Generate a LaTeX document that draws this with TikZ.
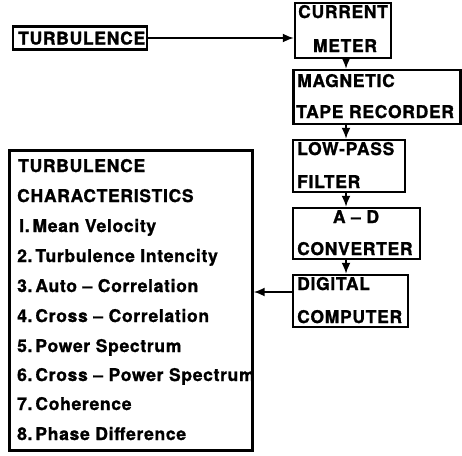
\documentclass[tikz,border=0pt]{standalone}
\usepackage{fontspec}
\setmainfont{TeX Gyre Heros}[LetterSpace=4, BoldFeatures={FakeBold=1.2}]
\usetikzlibrary{arrows.meta}
\tikzset{
  box/.style={draw, line width=2.4pt, inner sep=0pt, minimum width=#1},
  lbl/.style={anchor=base west, inner sep=0pt, font=\fontsize{17.5}{17.5}\selectfont\bfseries},
  clbl/.style={anchor=base, inner sep=0pt, font=\fontsize{17.5}{17.5}\selectfont\bfseries},
  conn/.style={line width=1.8pt, -{Latex[length=11pt,width=9pt]}}
}
\begin{document}
\begin{tikzpicture}[x=1pt,y=-1pt]
\useasboundingbox (0,0) rectangle (462,455);
% boxes
\node[box=134pt, minimum height=23pt] (turb) at (80,38) {};
\node[box=96pt, minimum height=55pt] (cm) at (343,30.5) {};
\node[box=167pt, minimum height=54pt] (mag) at (377,97) {};
\node[box=112pt, minimum height=52pt] (lp) at (349,166) {};
\node[box=127pt, minimum height=51pt] (ad) at (356.5,233.5) {};
\node[box=115pt, minimum height=52pt] (dc) at (350.5,301) {};
\node[box=243pt, minimum height=300pt] (big) at (131,300.5) {};
% texts
\node[lbl] (t0) at (18,44.5) {TURBULENCE};
\node[lbl] (c1) at (298,18) {CURRENT};
\node[clbl] (c2) at (345,52) {METER};
\node[lbl] (m1) at (297,87) {MAGNETIC};
\node[lbl] (m2) at (296,118) {TAPE RECORDER};
\node[lbl] (l1) at (297,155) {LOW-PASS};
\node[lbl] (l2) at (297,188) {FILTER};
\node[clbl] (a1) at (356,223) {A -- D};
\node[lbl] (a2) at (297,255) {CONVERTER};
\node[lbl] (d1) at (297,290) {DIGITAL};
\node[lbl] (d2) at (297,323) {COMPUTER};
\node[lbl] (b0) at (18,172) {TURBULENCE};
\node[lbl] (b1) at (17,202) {CHARACTERISTICS};
\node[lbl] (b2) at (19,232) {I.\,Mean Velocity};
\node[lbl] (b3) at (17,262) {2.\,Turbulence Intencity};
\node[lbl] (b4) at (17,292) {3.\,Auto -- Correlation};
\node[lbl] (b5) at (17,322) {4.\,Cross -- Correlation};
\node[lbl] (b6) at (17,352) {5.\,Power Spectrum};
\node[lbl] (b7) at (17,381) {6.\,Cross -- Power Spectrum};
\node[lbl] (b8) at (17,410) {7.\,Coherence};
\node[lbl] (b9) at (17,440) {8.\,Phase Difference};
% connectors
\draw[conn] (turb.east) -- (turb.east -| cm.west);
\draw[conn] (cm.south -| 346,0) -- (mag.north -| 346,0);
\draw[conn] (mag.south -| 346,0) -- (lp.north -| 346,0);
\draw[conn] (lp.south -| 346,0) -- (ad.north -| 346,0);
\draw[conn] (ad.south -| 346,0) -- (dc.north -| 346,0);
\draw[conn] (dc.west |- 0,292) -- (big.east |- 0,292);
\end{tikzpicture}
\end{document}
